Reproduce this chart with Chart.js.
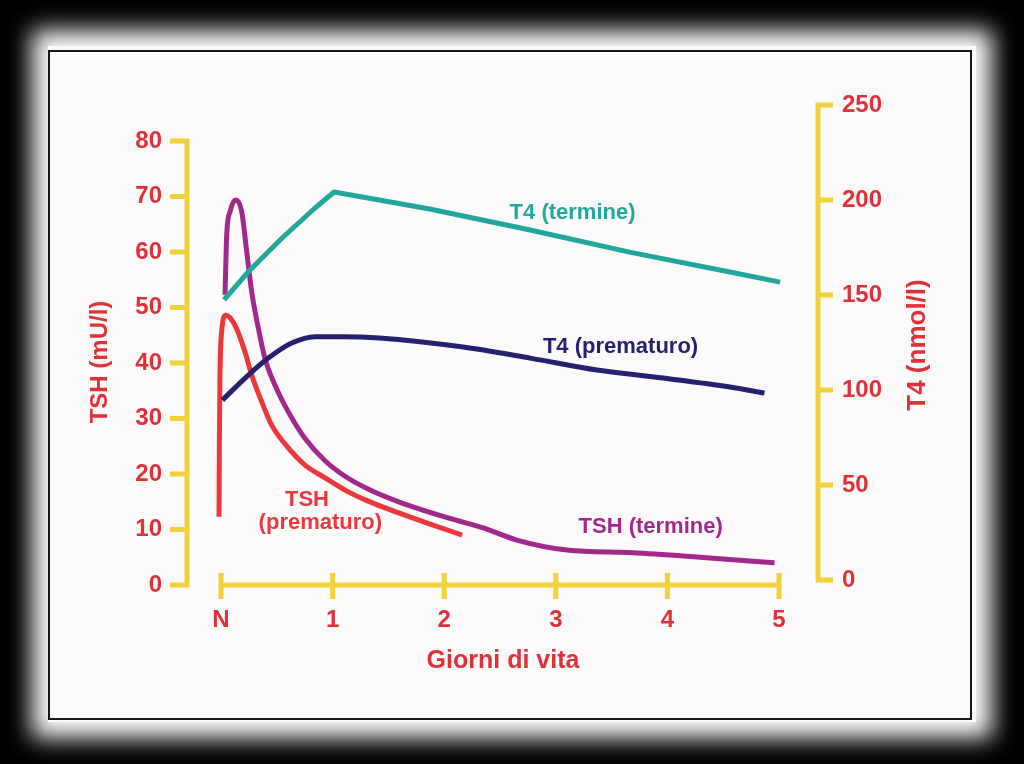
<!DOCTYPE html>
<html>
<head>
<meta charset="utf-8">
<script src="https://cdn.jsdelivr.net/npm/chart.js@4.4.0/dist/chart.umd.min.js"></script>
<style>
  html, body { margin: 0; padding: 0; background: #000; }
  #page { position: relative; width: 1024px; height: 764px; overflow: hidden; background: #000; }
  #paper { position: absolute; left: 48px; top: 46px; width: 928px; height: 676px; background: #fcfafa; box-shadow: 0 0 22px 16px #fcfafa; }
  #frame { position: absolute; left: 48px; top: 50px; width: 920px; height: 666px; border: 2px solid #161616; }
  #chart { position: absolute; left: 0; top: 0; }
</style>
</head>
<body>
<div id="page">
  <div id="paper"></div>
  <div id="frame"></div>
  <canvas id="chart" width="1024" height="764"></canvas>
</div>
<script>
// days of life (N = 0)
const xTicks = [0, 1, 2, 3, 4, 5];
const xTickLabels = ['N', '1', '2', '3', '4', '5'];
const tshTicks = [0, 10, 20, 30, 40, 50, 60, 70, 80];
const t4Ticks = [0, 50, 100, 150, 200, 250];

// TSH (prematuro) - mU/l
const tshPremDays = [-0.018, -0.015, -0.01, 0.005, 0.042, 0.125, 0.215, 0.275, 0.365, 0.454, 0.603, 0.753, 0.932, 1.111, 1.308, 1.604, 1.90, 2.16];
const tshPremValues = [12.3, 25, 37, 45.5, 48.6, 46.8, 42.0, 37.8, 33.0, 28.8, 24.7, 21.6, 19.3, 17.1, 15.2, 12.9, 10.8, 9.0];

// TSH (termine) - mU/l
const tshTermDays = [0.036, 0.051, 0.081, 0.132, 0.185, 0.230, 0.275, 0.334, 0.394, 0.484, 0.603, 0.753, 0.932, 1.111, 1.308, 1.604, 2.05, 2.35, 2.65, 3.10, 3.69, 4.29, 4.96];
const tshTermValues = [52.3, 63.1, 67.3, 69.4, 67.3, 60.1, 52.8, 46.3, 40.8, 36.0, 31.2, 26.4, 22.4, 19.6, 17.4, 14.9, 12.0, 10.3, 8.1, 6.3, 5.8, 5.0, 4.0];

// T4 (termine) - nmol/l
const t4TermDays = [0.027, 0.242, 0.547, 0.842, 1.013, 1.87, 2.77, 3.66, 4.56, 5.01];
const t4TermValues = [147.4, 162.1, 180.0, 195.8, 204.2, 195.3, 184.2, 172.6, 162.1, 156.8];

// T4 (prematuro) - nmol/l
const t4PremDays = [0.012, 0.245, 0.424, 0.633, 0.842, 1.081, 1.42, 2.17, 2.77, 3.37, 3.96, 4.56, 4.87];
const t4PremValues = [94.7, 107.9, 116.8, 124.7, 128.1, 128.1, 127.4, 122.6, 116.8, 110.5, 106.3, 101.6, 98.4];

const YELLOW = '#f2d23a';
const RED = '#ec383c';
const LABEL_RED = '#e0313a';
const TEAL = '#21a79b';
const NAVY = '#25216f';
const PURPLE = '#a2298c';
const FONT = '"Liberation Sans", Arial, sans-serif';

function toPoints(xs, ys) {
    return xs.map((x, i) => ({ x: x, y: ys[i] }));
}

const axesPlugin = {
    id: 'customAxes',
    beforeDatasetsDraw(chart) {
        const ctx = chart.ctx;
        const sx = chart.scales.x, yl = chart.scales.yL, yr = chart.scales.yR;
        const x0 = sx.getPixelForValue(0), x5 = sx.getPixelForValue(5);
        const leftX = x0 - 34;
        const rightX = x5 + 39;
        const baseY = yl.getPixelForValue(0);

        ctx.save();
        ctx.strokeStyle = YELLOW;
        ctx.lineWidth = 5;
        ctx.lineCap = 'butt';

        // left axis
        ctx.beginPath();
        ctx.moveTo(leftX, yl.getPixelForValue(80) - 2.5);
        ctx.lineTo(leftX, baseY + 2.5);
        tshTicks.forEach(v => {
            const y = yl.getPixelForValue(v);
            ctx.moveTo(leftX - 17, y);
            ctx.lineTo(leftX + 2.5, y);
        });
        ctx.stroke();

        // right axis
        ctx.beginPath();
        ctx.moveTo(rightX, yr.getPixelForValue(250) - 2.5);
        ctx.lineTo(rightX, yr.getPixelForValue(0) + 2.5);
        t4Ticks.forEach(v => {
            const y = yr.getPixelForValue(v);
            ctx.moveTo(rightX - 2.5, y);
            ctx.lineTo(rightX + 15, y);
        });
        ctx.stroke();

        // x axis
        ctx.beginPath();
        ctx.moveTo(x0, baseY);
        ctx.lineTo(x5, baseY);
        xTicks.forEach(v => {
            const x = sx.getPixelForValue(v);
            ctx.moveTo(x, baseY - 12);
            ctx.lineTo(x, baseY + 14);
        });
        ctx.stroke();

        // tick labels
        ctx.fillStyle = LABEL_RED;
        ctx.font = 'bold 24px ' + FONT;
        ctx.textBaseline = 'middle';
        ctx.textAlign = 'right';
        tshTicks.forEach(v => ctx.fillText(String(v), leftX - 25, yl.getPixelForValue(v)));
        ctx.textAlign = 'left';
        t4Ticks.forEach(v => ctx.fillText(String(v), rightX + 24, yr.getPixelForValue(v)));
        ctx.textAlign = 'center';
        xTicks.forEach((v, i) => ctx.fillText(xTickLabels[i], sx.getPixelForValue(v), baseY + 35));

        // axis titles
        ctx.font = 'bold 25px ' + FONT;
        ctx.fillText('Giorni di vita', (x0 + x5) / 2 + 3, baseY + 76);

        ctx.save();
        ctx.translate(100, 362);
        ctx.rotate(-Math.PI / 2);
        ctx.font = 'bold 24px ' + FONT;
        ctx.fillText('TSH (mU/l)', 0, 0);
        ctx.restore();

        ctx.save();
        ctx.translate(918, 345);
        ctx.rotate(-Math.PI / 2);
        ctx.font = 'bold 26px ' + FONT;
        ctx.fillText('T4 (nmol/l)', 0, 0);
        ctx.restore();

        ctx.restore();
    },
    afterDatasetsDraw(chart) {
        const ctx = chart.ctx;
        const sx = chart.scales.x, yl = chart.scales.yL, yr = chart.scales.yR;
        ctx.save();
        ctx.font = 'bold 22px ' + FONT;
        ctx.textAlign = 'center';
        ctx.textBaseline = 'middle';

        ctx.fillStyle = TEAL;
        ctx.fillText('T4 (termine)', sx.getPixelForValue(3.15), yr.getPixelForValue(193));
        ctx.fillStyle = NAVY;
        ctx.fillText('T4 (prematuro)', sx.getPixelForValue(3.58), yr.getPixelForValue(122.6));
        ctx.fillStyle = PURPLE;
        ctx.fillText('TSH (termine)', sx.getPixelForValue(3.85), yl.getPixelForValue(10.5));
        ctx.fillStyle = RED;
        ctx.fillText('TSH', sx.getPixelForValue(0.77), yl.getPixelForValue(15.3));
        ctx.fillText('(prematuro)', sx.getPixelForValue(0.89), yl.getPixelForValue(11.2));
        ctx.restore();
    }
};

const ctx = document.getElementById('chart').getContext('2d');
const thyroidChart = new Chart(ctx, {
    type: 'scatter',
    data: {
        datasets: [
            {
                label: 'T4 (termine)',
                data: toPoints(t4TermDays, t4TermValues),
                yAxisID: 'yR',
                borderColor: TEAL,
                borderWidth: 5,
                borderJoinStyle: 'round',
                showLine: true,
                pointRadius: 0,
                tension: 0,
                clip: false
            },
            {
                label: 'T4 (prematuro)',
                data: toPoints(t4PremDays, t4PremValues),
                yAxisID: 'yR',
                borderColor: NAVY,
                borderWidth: 5,
                showLine: true,
                pointRadius: 0,
                cubicInterpolationMode: 'monotone',
                clip: false
            },
            {
                label: 'TSH (termine)',
                data: toPoints(tshTermDays, tshTermValues),
                yAxisID: 'yL',
                borderColor: PURPLE,
                borderWidth: 5,
                showLine: true,
                pointRadius: 0,
                cubicInterpolationMode: 'monotone',
                clip: false
            },
            {
                label: 'TSH (prematuro)',
                data: toPoints(tshPremDays, tshPremValues),
                yAxisID: 'yL',
                borderColor: RED,
                borderWidth: 5,
                showLine: true,
                pointRadius: 0,
                cubicInterpolationMode: 'monotone',
                clip: false
            }
        ]
    },
    options: {
        responsive: false,
        animation: false,
        layout: {
            padding: { left: 215, right: 245, top: 105, bottom: 179 }
        },
        scales: {
            x: { type: 'linear', min: -0.054, max: 5, display: false },
            yL: { type: 'linear', position: 'left', min: 0, max: 86.5, display: false },
            yR: { type: 'linear', position: 'right', min: -2.6, max: 250, display: false }
        },
        plugins: {
            legend: { display: false },
            tooltip: { enabled: false }
        }
    },
    plugins: [axesPlugin]
});
</script>
</body>
</html>
